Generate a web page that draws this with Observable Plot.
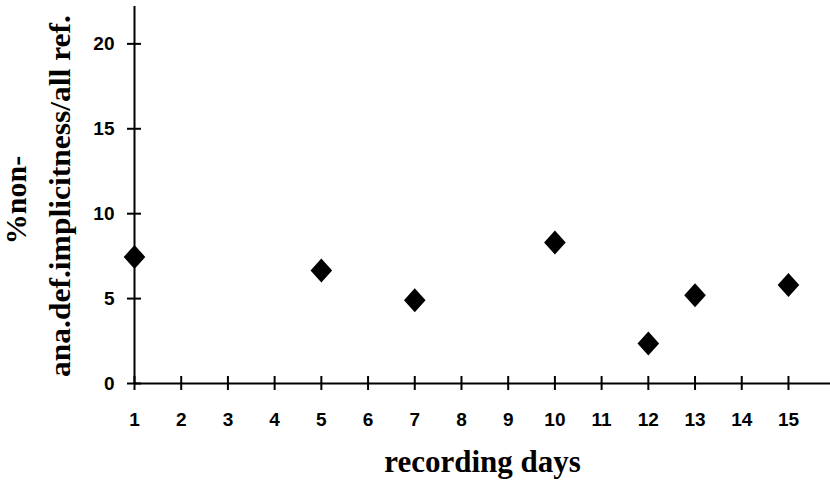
<!DOCTYPE html>
<html>
<head>
<meta charset="utf-8">
<script src="https://cdn.jsdelivr.net/npm/d3@7"></script>
<script src="https://cdn.jsdelivr.net/npm/@observablehq/plot@0.6"></script>
<style>
  html, body { margin: 0; padding: 0; background: #fff; }
</style>
</head>
<body>
<div id="chart"></div>
<script>
const days = [1, 5, 7, 10, 12, 13, 15];
const values = [7.45, 6.65, 4.9, 8.3, 2.35, 5.2, 5.8];
const xTicks = [1, 2, 3, 4, 5, 6, 7, 8, 9, 10, 11, 12, 13, 14, 15];
const yTicks = [0, 5, 10, 15, 20];
const xTitle = "recording days";
const yTitle1 = "%non-";
const yTitle2 = "ana.def.implicitness/all ref.";

const data = days.map((d, i) => ({day: d, value: values[i]}));

const diamond = {
  draw(ctx, size) {
    const r = Math.sqrt(size / Math.PI);
    const w = r * 0.9;
    ctx.moveTo(0, -r);
    ctx.lineTo(w, 0);
    ctx.lineTo(0, r);
    ctx.lineTo(-w, 0);
    ctx.closePath();
  }
};

const sans = "'Liberation Sans', Arial, sans-serif";
const serif = "'Liberation Serif', 'Times New Roman', serif";

const chart = Plot.plot({
  width: 830,
  height: 487,
  marginLeft: 134,
  marginRight: 0,
  marginTop: 6,
  marginBottom: 104,
  style: {background: "white", color: "black"},
  x: {domain: [1, 15.9]},
  y: {domain: [0, 22.2]},
  marks: [
    Plot.ruleY([0], {strokeWidth: 2}),
    Plot.ruleX([1], {strokeWidth: 2}),
    Plot.axisX({ticks: xTicks, tickSize: 14, dy: -7, tickFormat: () => "", strokeWidth: 2, label: null}),
    Plot.axisX({ticks: xTicks, tickSize: 0, tickPadding: 29, fontSize: 19, fontWeight: "bold", fontFamily: sans, label: null}),
    Plot.axisY({ticks: yTicks, tickSize: 14, dx: 7, tickFormat: () => "", strokeWidth: 2, label: null}),
    Plot.axisY({ticks: yTicks, tickSize: 0, tickPadding: 20, fontSize: 19, fontWeight: "bold", fontFamily: sans, label: null}),
    Plot.dot(data, {x: "day", y: "value", symbol: diamond, r: 12, fill: "black", stroke: null}),
    Plot.text([xTitle], {frameAnchor: "bottom", lineAnchor: "middle", dy: 79, fontSize: 31, fontWeight: "bold", fontFamily: serif}),
    Plot.text([yTitle1], {frameAnchor: "left", textAnchor: "middle", lineAnchor: "middle", rotate: -90, dx: -118, dy: 5, fontSize: 30, fontWeight: "bold", fontFamily: serif}),
    Plot.text([yTitle2], {frameAnchor: "left", textAnchor: "middle", lineAnchor: "middle", rotate: -90, dx: -74, dy: 1, fontSize: 30, fontWeight: "bold", fontFamily: serif})
  ]
});
// stretch the long axis title to the reference's length
for (const t of chart.querySelectorAll("text")) {
  if (t.textContent === yTitle2) {
    t.setAttribute("textLength", 362);
    t.setAttribute("lengthAdjust", "spacingAndGlyphs");
  }
}
document.getElementById("chart").appendChild(chart);
</script>
</body>
</html>
